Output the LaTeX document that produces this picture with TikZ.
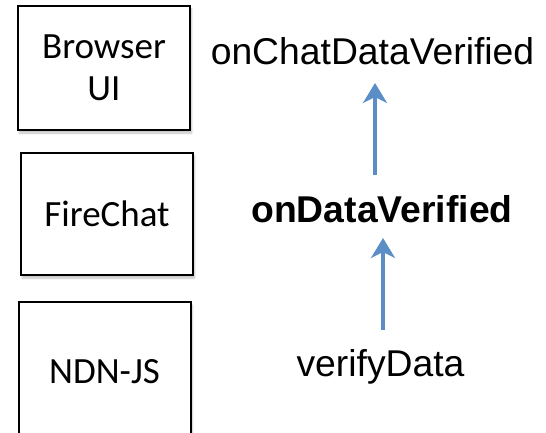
\documentclass[tikz,border=0pt]{standalone}
\usepackage{fontspec}
\setmainfont{Liberation Sans}
\newfontfamily\boxfont{Carlito}
\usetikzlibrary{arrows.meta,shadows.blur}
\definecolor{arrowblue}{HTML}{5B8DC6}
\tikzset{
  layerbox/.style={draw=black, line width=2pt, fill=white, minimum width=172pt,
    align=center, font=\boxfont\fontsize{37}{42}\selectfont,
    blur shadow={shadow xshift=1.5pt, shadow yshift=-3pt, shadow blur steps=6, shadow opacity=25}},
  fnlabel/.style={anchor=base, font=\fontsize{37.3}{40}\selectfont, inner sep=0pt},
  callarrow/.style={draw=arrowblue, line width=4pt,
    -{Stealth[length=20pt, width=24pt, inset=6pt]}}
}
\begin{document}
\begin{tikzpicture}[x=1pt, y=-1pt]
\useasboundingbox (0,0) rectangle (546,433);
\clip (0,0) rectangle (546,433);
\node[layerbox, minimum height=124pt] (ui) at (104,68) {Browser\\UI};
\node[layerbox, minimum height=122pt] (fc) at (107,214) {FireChat};
\node[layerbox, minimum height=140pt] (ndn) at (104.5,372) {NDN-JS};
\node[fnlabel] (cdv) at (372.5,65) {onChatDataVerified};
\node[fnlabel, font=\bfseries\fontsize{37.3}{40}\selectfont] (dv) at (382,222) {onDataVerified};
\node[fnlabel] (vd) at (380.5,376) {verifyData};
\coordinate (a1s) at (375,175);
\coordinate (a1e) at (375,83);
\coordinate (a2s) at (383,330);
\coordinate (a2e) at (383,238);
\draw[callarrow] (a1s) -- (a1e);
\draw[callarrow] (a2s) -- (a2e);
\end{tikzpicture}
\end{document}
